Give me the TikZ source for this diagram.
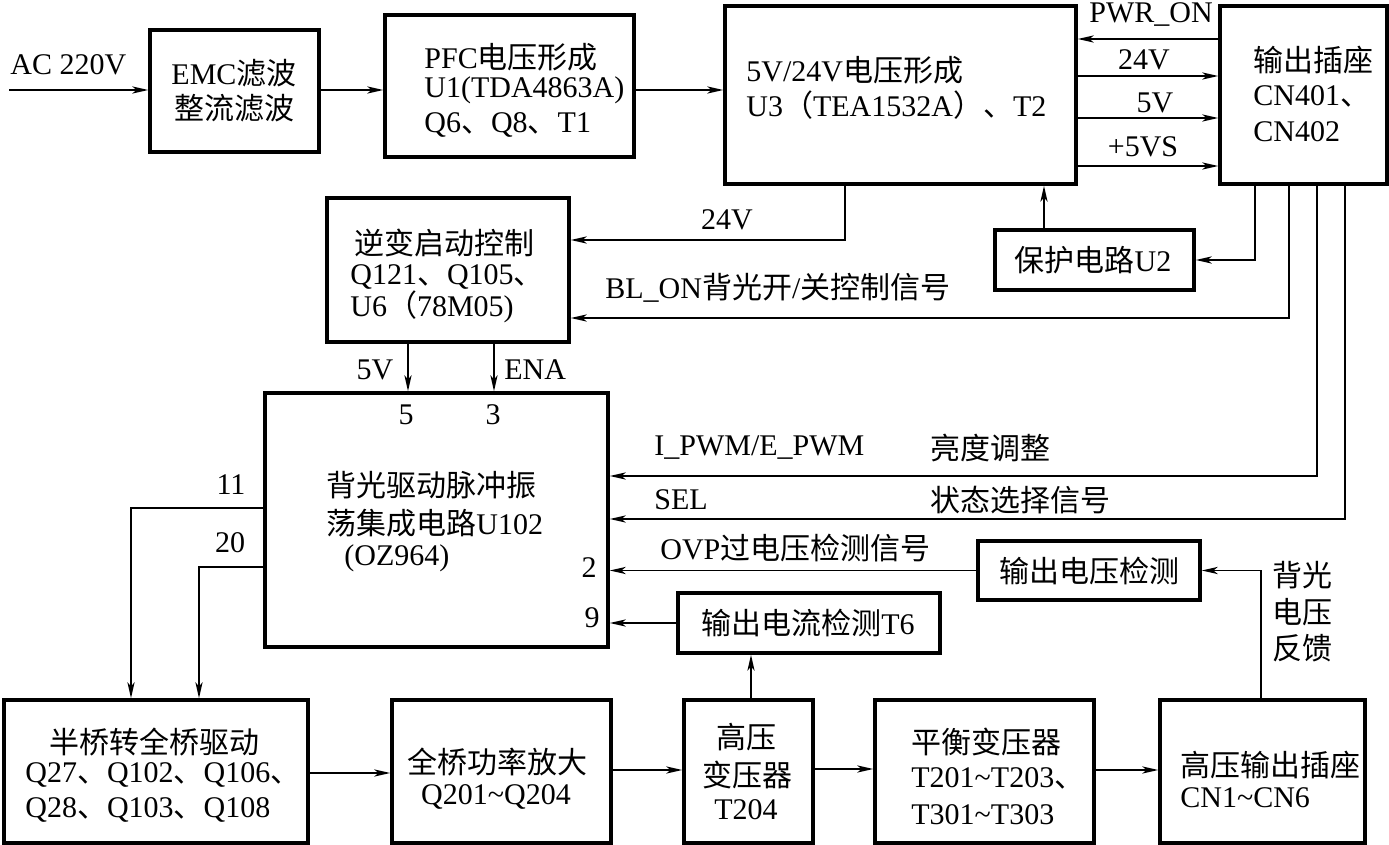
\documentclass[tikz,border=0pt]{standalone}
\usepackage{fontspec}
\setmainfont{Liberation Serif}
\newfontfamily\zhfont{Noto Sans CJK SC}
\newcommand{\z}[1]{{\zhfont #1}}
\usetikzlibrary{arrows.meta,calc}
\tikzset{
  box/.style={draw, line width=1.8pt, inner sep=0pt},
  txt/.style={inner sep=0pt, font=\fontsize{15pt}{17.5pt}\selectfont},
  conn/.style={line width=0.8pt},
  arr/.style={conn, -{Stealth[length=8pt,width=3.6pt,inset=2.2pt]}}
}
\begin{document}
\begin{tikzpicture}[x=0.5pt,y=-0.5pt]
\useasboundingbox (0,0) rectangle (1389,845);
% boxes
\node[box, minimum width=84.5pt, minimum height=61pt] (emc) at (234.5,91) {};
\node[box, minimum width=124.5pt, minimum height=71pt] (pfc) at (509.5,86) {};
\node[box, minimum width=175.5pt, minimum height=89pt] (vol) at (900.5,95) {};
\node[box, minimum width=83.5pt, minimum height=89pt] (out) at (1303.5,95) {};
\node[box, minimum width=99.5pt, minimum height=30pt] (prot) at (1094.5,260) {};
\node[box, minimum width=121pt, minimum height=72pt] (inv) at (448,270) {};
\node[box, minimum width=171.5pt, minimum height=127pt] (ic) at (436.5,520) {};
\node[box, minimum width=111pt, minimum height=29.5pt] (ovd) at (1089,570.5) {};
\node[box, minimum width=131pt, minimum height=30pt] (ocd) at (809,623) {};
\node[box, minimum width=152pt, minimum height=71.5pt] (hb) at (156,771.5) {};
\node[box, minimum width=109.5pt, minimum height=71.5pt] (fb) at (501.5,771.5) {};
\node[box, minimum width=64.5pt, minimum height=71.5pt] (hvt) at (748.5,771.5) {};
\node[box, minimum width=109.5pt, minimum height=71.5pt] (bal) at (984.5,771.5) {};
\node[box, minimum width=102.5pt, minimum height=71.5pt] (hvo) at (1262.5,771.5) {};
% texts in boxes
\node[txt] (t-emc1) at (234,73) {EMC\z{滤波}};
\node[txt] (t-emc2) at (234,108) {\z{整流滤波}};
\node[txt, anchor=west] (t-pfc1) at (424,57) {PFC\z{电压形成}};
\node[txt, anchor=west] (t-pfc2) at (424,90) {U1(TDA4863A)};
\node[txt, anchor=west] (t-pfc3) at (424,125) {Q6\z{、}Q8\z{、}T1};
\node[txt, anchor=west] (t-vol1) at (746,70) {5V/24V\z{电压形成}};
\node[txt, anchor=west] (t-vol2) at (746,105) {U3\z{（}TEA1532A\z{）、}T2};
\node[txt, anchor=west] (t-out1) at (1253,60) {\z{输出插座}};
\node[txt, anchor=west] (t-out2) at (1253,96) {CN401\z{、}};
\node[txt, anchor=west] (t-out3) at (1253,132) {CN402};
\node[txt] (t-prot) at (1093,260) {\z{保护电路}U2};
\node[txt] (t-inv1) at (444,243) {\z{逆变启动控制}};
\node[txt, anchor=west] (t-inv2) at (350,277) {Q121\z{、}Q105\z{、}};
\node[txt, anchor=west] (t-inv3) at (350,307) {U6\z{（}78M05)};
\node[txt, anchor=west] (t-ic1) at (326,485) {\z{背光驱动脉冲振}};
\node[txt, anchor=west] (t-ic2) at (326,523) {\z{荡集成电路}U102};
\node[txt, anchor=west] (t-ic3) at (344,558) {(OZ964)};
\node[txt] (t-ovd) at (1089,571) {\z{输出电压检测}};
\node[txt] (t-ocd) at (808,623) {\z{输出电流检测}T6};
\node[txt] (t-hb1) at (154,742) {\z{半桥转全桥驱动}};
\node[txt, anchor=west] (t-hb2) at (25,775) {Q27\z{、}Q102\z{、}Q106\z{、}};
\node[txt, anchor=west] (t-hb3) at (25,810) {Q28\z{、}Q103\z{、}Q108};
\node[txt] (t-fb1) at (497,762) {\z{全桥功率放大}};
\node[txt] (t-fb2) at (496,797) {Q201\textasciitilde Q204};
\node[txt] (t-hvt1) at (746,737) {\z{高压}};
\node[txt] (t-hvt2) at (747,775) {\z{变压器}};
\node[txt] (t-hvt3) at (746,810) {T204};
\node[txt, anchor=west] (t-bal1) at (911,742) {\z{平衡变压器}};
\node[txt, anchor=west] (t-bal2) at (911,778) {T201\textasciitilde T203\z{、}};
\node[txt, anchor=west] (t-bal3) at (911,815) {T301\textasciitilde T303};
\node[txt, anchor=west] (t-hvo1) at (1180,765) {\z{高压输出插座}};
\node[txt, anchor=west] (t-hvo2) at (1180,798) {CN1\textasciitilde CN6};
% labels
\node[txt, anchor=west] (l-ac) at (10,65) {AC 220V};
\node[txt] (l-pwr) at (1151,15) {PWR\_ON};
\node[txt] (l-24a) at (1144,60) {24V};
\node[txt] (l-5a) at (1155,103) {5V};
\node[txt] (l-5vs) at (1143,147) {+5VS};
\node[txt] (l-24b) at (727,220) {24V};
\node[txt, anchor=west] (l-bl) at (605,288) {BL\_ON\z{背光开}/\z{关控制信号}};
\node[txt] (l-5v) at (375,370) {5V};
\node[txt, anchor=west] (l-ena) at (504,370) {ENA};
\node[txt] (p5) at (406,415) {5};
\node[txt] (p3) at (493,415) {3};
\node[txt] (p11) at (231,485) {11};
\node[txt] (p20) at (230,543) {20};
\node[txt] (p2) at (589,568) {2};
\node[txt] (p9) at (592,618) {9};
\node[txt, anchor=west] (l-pwm) at (654,448) {I\_PWM/E\_PWM};
\node[txt, anchor=west] (l-ld) at (930,448) {\z{亮度调整}};
\node[txt, anchor=west] (l-sel) at (654,500) {SEL};
\node[txt, anchor=west] (l-zt) at (930,500) {\z{状态选择信号}};
\node[txt, anchor=west] (l-ovp) at (660,548) {OVP\z{过电压检测信号}};
\node[txt] (l-fb1) at (1302,575) {\z{背光}};
\node[txt] (l-fb2) at (1302,612) {\z{电压}};
\node[txt] (l-fb3) at (1302,648) {\z{反馈}};
% connectors
\coordinate (acin) at (9,90);
\draw[arr] (acin) -- (acin -| emc.west);
\draw[arr] (emc.east |- acin) -- (pfc.west |- acin);
\draw[arr] (pfc.east |- acin) -- (vol.west |- acin);
\draw[arr] (out.west |- 0,39) -- (vol.east |- 0,39);
\draw[arr] (vol.east |- 0,76) -- (out.west |- 0,76);
\draw[arr] (vol.east |- 0,118) -- (out.west |- 0,118);
\draw[arr] (vol.east |- 0,166) -- (out.west |- 0,166);
\draw[arr] (vol.south -| 845,0) |- (inv.east |- 0,240);
\draw[arr] (prot.north -| 1044,0) -- (vol.south -| 1044,0);
\draw[arr] (out.south -| 1255,0) |- (prot.east);
\draw[arr] (out.south -| 1289,0) |- (inv.east |- 0,318);
\draw[arr] (out.south -| 1317,0) |- (ic.east |- 0,476);
\draw[arr] (out.south -| 1345,0) |- (ic.east |- 0,519);
\draw[arr] (inv.south -| 408,0) -- (ic.north -| 408,0);
\draw[arr] (inv.south -| 494,0) -- (ic.north -| 494,0);
\draw[arr] (ic.west |- 0,508) -| (hb.north -| 131,0);
\draw[arr] (ic.west |- 0,567) -| (hb.north -| 199,0);
\draw[arr] (hb.east |- 0,773) -- (fb.west |- 0,773);
\draw[arr] (fb.east |- 0,770) -- (hvt.west |- 0,770);
\draw[arr] (hvt.east |- 0,769) -- (bal.west |- 0,769);
\draw[arr] (bal.east |- 0,770) -- (hvo.west |- 0,770);
\draw[arr] (hvt.north -| 751,0) -- (ocd.south -| 751,0);
\draw[arr] (ocd.west) -- (ic.east |- ocd.west);
\draw[arr] (ovd.west) -- (ic.east |- ovd.west);
\draw[arr] (hvo.north -| 1261,0) |- (ovd.east);
\end{tikzpicture}
\end{document}
